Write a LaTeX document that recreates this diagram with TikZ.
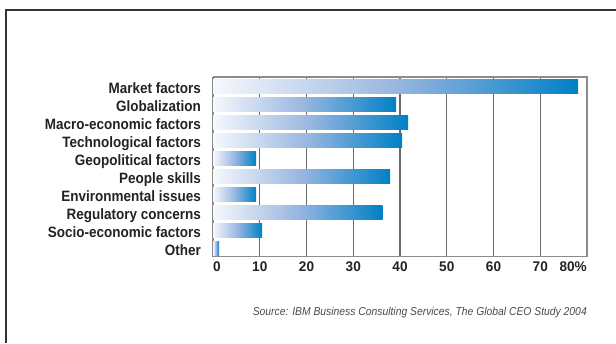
\documentclass[tikz,border=0pt]{standalone}
\usepackage{fontspec}
\setmainfont{Liberation Sans}
\newfontfamily\labfont[FakeStretch=0.9]{Liberation Sans}
\newfontfamily\axfont[FakeStretch=0.97]{Liberation Sans}
\newfontfamily\srcfont[FakeStretch=0.9]{Liberation Sans}
\definecolor{barblue}{HTML}{0080C6}
\definecolor{barmid}{HTML}{98B6E0}
\definecolor{barlight}{HTML}{F6F8FC}
\definecolor{framecol}{HTML}{333333}
\definecolor{gridcol}{HTML}{6A6A6A}
\definecolor{axcol}{HTML}{8C8C8C}
\definecolor{textcol}{HTML}{222222}
\definecolor{srccol}{HTML}{4A4A4A}
\pgfdeclarehorizontalshading{barshade}{100bp}{color(0bp)=(barlight); color(25bp)=(barlight); color(50bp)=(barmid); color(75bp)=(barblue); color(100bp)=(barblue)}
\begin{document}
\begin{tikzpicture}[x=1pt,y=-1pt,
  catlabel/.style={anchor=base east, inner sep=0pt, text=textcol, font=\labfont\bfseries\fontsize{15}{15}\selectfont},
  axlabel/.style={anchor=base, inner sep=0pt, text=textcol, font=\axfont\bfseries\fontsize{14}{14}\selectfont},
  gridline/.style={draw=gridcol, line width=1.2pt},
  axisline/.style={draw=axcol, line width=1.3pt},
  barfill/.style={shading=barshade}]
\useasboundingbox (0,0) rectangle (616,343);
% frame
\draw[framecol, line width=2pt] (6,343) -- (6,10) -- (616,10);
% coordinates of chart corners
\coordinate (tl) at (213,77);
\coordinate (bl) at (213,256.5);
\coordinate (tr) at (587,77);
\coordinate (br) at (587,256.5);
% grid
\foreach \k in {1,...,7}{
  \draw[gridline] ({213+46.75*\k},77) -- ({213+46.75*\k},256.5);
}
\draw[axisline] (tl) -- (bl);
\draw[axisline] (tl) -- (tr) -- (br) -- (bl);
% bars
\foreach \i/\e in {0/578,1/396,2/408,3/402,4/256,5/390,6/256,7/382.5,8/262,9/219}{
  \shade[barfill] (213,{79+18*\i}) rectangle (\e,{93+18*\i});
}
% labels
\node[catlabel] (l0) at (201,93.7) {Market factors};
\node[catlabel] (l1) at (201,111.7) {Globalization};
\node[catlabel] (l2) at (201,129.7) {Macro-economic factors};
\node[catlabel] (l3) at (201,147.7) {Technological factors};
\node[catlabel] (l4) at (201,165.7) {Geopolitical factors};
\node[catlabel] (l5) at (201,183.7) {People skills};
\node[catlabel] (l6) at (201,201.7) {Environmental issues};
\node[catlabel] (l7) at (201,219.7) {Regulatory concerns};
\node[catlabel] (l8) at (201,237.7) {Socio-economic factors};
\node[catlabel] (l9) at (201,255.7) {Other};
% axis labels
\node[axlabel, anchor=base west] (a0) at (213,271.7) {0};
\node[axlabel] (a1) at (259.75,271.7) {10};
\node[axlabel] (a2) at (306.5,271.7) {20};
\node[axlabel] (a3) at (353.25,271.7) {30};
\node[axlabel] (a4) at (400,271.7) {40};
\node[axlabel] (a5) at (446.75,271.7) {50};
\node[axlabel] (a6) at (493.5,271.7) {60};
\node[axlabel] (a7) at (540.25,271.7) {70};
\node[axlabel, anchor=base east] (a8) at (587,271.7) {80\%};
% source
\node[anchor=base east, inner sep=0pt, text=srccol, font=\srcfont\itshape\fontsize{11.5}{11.5}\selectfont] (src) at (587,315.7) {Source: IBM Business Consulting Services, The Global CEO Study 2004};
\end{tikzpicture}
\end{document}
